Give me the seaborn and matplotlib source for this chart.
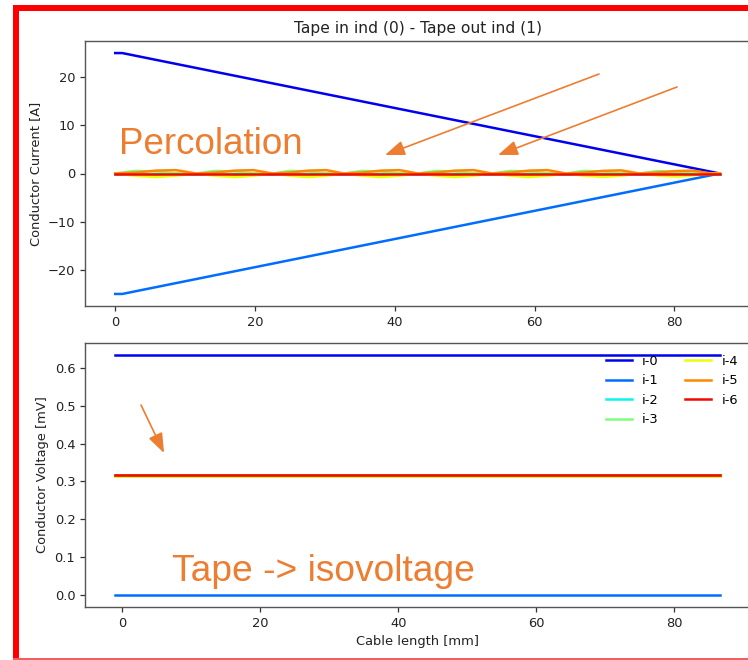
import numpy as np
import pandas as pd
import matplotlib
matplotlib.use("Agg")
import matplotlib.pyplot as plt
import seaborn as sns
from matplotlib.patches import Rectangle, FancyArrowPatch

# ---------------- data ----------------
series_names = ["i-0", "i-1", "i-2", "i-3", "i-4", "i-5", "i-6"]

# Top panel: conductor current [A]
cur_x_outer = [0.0, 1.0, 86.5]
cur_i0 = [25.0, 25.0, 0.0]
cur_i1 = [-25.0, -25.0, 0.0]

cur_x_inner = [0.0, 2.9, 5.8, 8.7, 11.6,
               14.3, 17.1, 19.8, 22.5,
               25.1, 27.6, 30.2, 32.7,
               35.4, 38.0, 40.7, 43.3,
               46.0, 48.6, 51.3, 53.9,
               56.6, 59.2, 61.9, 64.5,
               67.1, 69.8, 72.4, 75.0,
               77.6, 80.2, 82.7, 85.3,
               86.5]
cur_i2 = [0.0] * 34
cur_i3 = [0.0, 0.55, 0.4, 0.05, 0.0,
          0.55, 0.4, 0.05, 0.0,
          0.55, 0.4, 0.05, 0.0,
          0.55, 0.4, 0.05, 0.0,
          0.55, 0.4, 0.05, 0.0,
          0.55, 0.4, 0.05, 0.0,
          0.55, 0.4, 0.05, 0.0,
          0.5, 0.35, 0.05, 0.0,
          0.0]
cur_i4 = [0.0, -0.45, -0.75, -0.45, 0.0,
          -0.45, -0.75, -0.45, 0.0,
          -0.45, -0.75, -0.45, 0.0,
          -0.45, -0.75, -0.45, 0.0,
          -0.45, -0.75, -0.45, 0.0,
          -0.45, -0.75, -0.45, 0.0,
          -0.45, -0.7, -0.45, 0.0,
          -0.4, -0.65, -0.4, 0.0,
          0.0]
cur_i5 = [0.0, 0.2, 0.6, 0.7, 0.0,
          0.2, 0.6, 0.7, 0.0,
          0.2, 0.6, 0.7, 0.0,
          0.2, 0.6, 0.7, 0.0,
          0.2, 0.6, 0.7, 0.0,
          0.2, 0.6, 0.7, 0.0,
          0.2, 0.55, 0.65, 0.0,
          0.2, 0.5, 0.6, 0.0,
          0.0]
cur_i6 = [0.0] * 34

# Bottom panel: conductor voltage [mV]
volt_x = [-1.0, 86.6]
volt_levels = {"i-0": 0.634, "i-1": 0.0, "i-2": 0.316, "i-3": 0.315,
               "i-4": 0.315, "i-5": 0.318, "i-6": 0.318}

# ---------------- build frames ----------------
rows = []
for x, y in zip(cur_x_outer, cur_i0):
    rows.append(("i-0", x, y))
for x, y in zip(cur_x_outer, cur_i1):
    rows.append(("i-1", x, y))
for name, vals in zip(series_names[2:], [cur_i2, cur_i3, cur_i4, cur_i5, cur_i6]):
    for x, y in zip(cur_x_inner, vals):
        rows.append((name, x, y))
df_cur = pd.DataFrame(rows, columns=["series", "x", "y"])

rows = []
for name in series_names:
    for x in volt_x:
        rows.append((name, x, volt_levels[name]))
df_volt = pd.DataFrame(rows, columns=["series", "x", "y"])

palette = dict(zip(series_names, [matplotlib.colormaps["jet"](v) for v in np.linspace(0.1, 0.9, 7)]))

# ---------------- figure ----------------
W, H = 748, 660
fig = plt.figure(figsize=(W / 100, H / 100), dpi=100)
fig.patch.set_facecolor("white")

def fx(px):
    return px / W

def fy(py):
    return 1 - py / H

ax1 = fig.add_axes([fx(85), fy(306), fx(750) - fx(85), (306 - 41) / H])
ax2 = fig.add_axes([fx(85), fy(607), fx(750) - fx(85), (607 - 343) / H])

lw = 1.8
sns.lineplot(data=df_cur, x="x", y="y", hue="series", hue_order=series_names,
             palette=palette, estimator=None, sort=True, legend=False,
             linewidth=lw, ax=ax1)
sns.lineplot(data=df_volt, x="x", y="y", hue="series", hue_order=series_names,
             palette=palette, estimator=None, sort=True, legend=True,
             linewidth=lw, ax=ax2)

fs = 9.4
spine_col = "#555555"
for ax in (ax1, ax2):
    ax.set_facecolor("white")
    for s in ax.spines.values():
        s.set_color(spine_col)
        s.set_linewidth(1.0)
    ax.tick_params(colors="#333333", labelsize=fs, length=3.5, width=0.9)
    ax.tick_params(axis="both", labelcolor="#222222")
    ax.margins(x=0.05, y=0.05)

ax1.set_title("Tape in ind (0) - Tape out ind (1)", fontsize=11.2, color="#222222")
ax1.set_xlabel("")
ax1.set_ylabel("Conductor Current [A]", fontsize=fs, color="#222222")
ax1.set_yticks([-20, -10, 0, 10, 20])
ax1.set_xticks([0, 20, 40, 60, 80])

ax2.set_xlabel("Cable length [mm]", fontsize=fs, color="#222222")
ax2.set_ylabel("Conductor Voltage [mV]", fontsize=fs, color="#222222")
ax2.set_xticks([0, 20, 40, 60, 80])
ax2.set_yticks([0.0, 0.1, 0.2, 0.3, 0.4, 0.5, 0.6])
ax2.set_yticklabels(["0.0", "0.1", "0.2", "0.3", "0.4", "0.5", "0.6"])
ax2.legend(loc="upper right", ncol=2, frameon=False, fontsize=fs,
           handlelength=2.0, columnspacing=2.0, borderaxespad=0.5)

# ---------------- slide annotations ----------------
orange = "#ED7D31"
fig.text(fx(119), fy(154), "Percolation", color=orange, fontsize=26.5,
         family="Liberation Sans", va="baseline", ha="left")
fig.text(fx(172), fy(581), "Tape -> isovoltage", color=orange, fontsize=26.7,
         family="Liberation Sans", va="baseline", ha="left")

for (x0, y0, x1, y1) in [(599, 74, 385, 155), (677, 87, 498, 155), (141, 405, 164, 453)]:
    arr = FancyArrowPatch((fx(x0), fy(y0)), (fx(x1), fy(y1)),
                          transform=fig.transFigure,
                          arrowstyle="-|>,head_length=12,head_width=4.5",
                          mutation_scale=1, color=orange, linewidth=1.2,
                          shrinkA=0, shrinkB=0)
    fig.add_artist(arr)

# red slide frame
fig.add_artist(Rectangle((fx(13), fy(11)), 1 - fx(13), (11 - 5) / H,
                         transform=fig.transFigure, color="#FF0000", lw=0))
fig.add_artist(Rectangle((fx(13), 0), (19 - 13) / W, fy(5),
                         transform=fig.transFigure, color="#FF0000", lw=0))
fig.add_artist(Rectangle((fx(13), fy(660)), 1 - fx(13), 2 / H,
                         transform=fig.transFigure, color="#F06060", lw=0))

fig.savefig("out.png", dpi=100, facecolor="white")
